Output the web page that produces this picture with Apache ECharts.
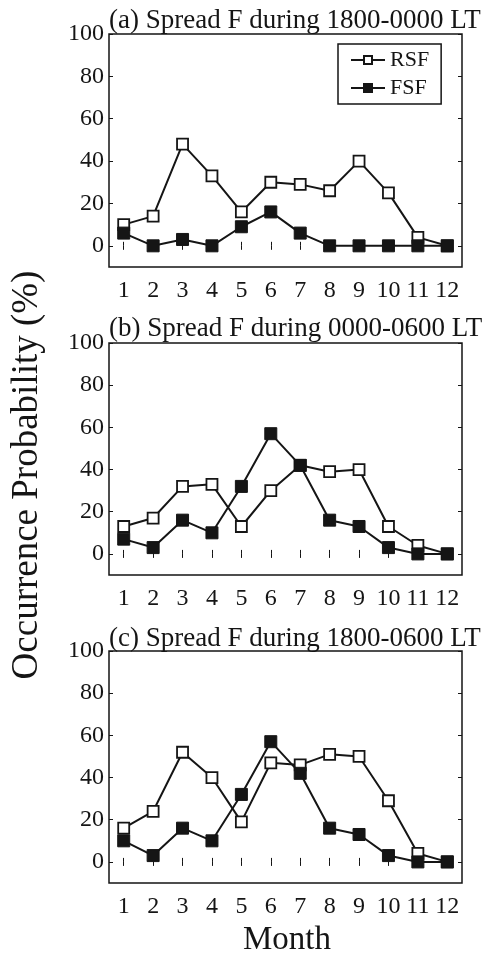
<!DOCTYPE html>
<html>
<head>
<meta charset="utf-8">
<script src="https://cdn.jsdelivr.net/npm/echarts@6/dist/echarts.min.js"></script>
<style>
  html, body { margin: 0; padding: 0; background: #fff; }
  #chart { width: 484px; height: 963px; }
</style>
</head>
<body>
<div id="chart"></div>
<script>
// months on the x axis
const months = ['1', '2', '3', '4', '5', '6', '7', '8', '9', '10', '11', '12'];
const yTicks = [0, 20, 40, 60, 80, 100];

// (a) 1800-0000 LT
const rsfA = [10, 14, 48, 33, 16, 30, 29, 26, 40, 25, 4, 0];
const fsfA = [6, 0, 3, 0, 9, 16, 6, 0, 0, 0, 0, 0];
// (b) 0000-0600 LT
const rsfB = [13, 17, 32, 33, 13, 30, 42, 39, 40, 13, 4, 0];
const fsfB = [7, 3, 16, 10, 32, 57, 42, 16, 13, 3, 0, 0];
// (c) 1800-0600 LT
const rsfC = [16, 24, 52, 40, 19, 47, 46, 51, 50, 29, 4, 0];
const fsfC = [10, 3, 16, 10, 32, 57, 42, 16, 13, 3, 0, 0];

const titles = [
  '(a) Spread F during 1800-0000 LT',
  '(b) Spread F during 0000-0600 LT',
  '(c) Spread F during 1800-0600 LT'
];

const FONT = 'Liberation Serif';
const INK = '#151515';

// panel boxes (top, height)
const panels = [
  { top: 34, height: 233, rsf: rsfA, fsf: fsfA, titleTop: 2 },
  { top: 343, height: 232, rsf: rsfB, fsf: fsfB, titleTop: 310 },
  { top: 651, height: 232, rsf: rsfC, fsf: fsfC, titleTop: 620 }
];

const grid = [], xAxis = [], yAxis = [], series = [], title = [];

panels.forEach((p, i) => {
  grid.push({
    left: 109, width: 353, top: p.top, height: p.height,
    show: true, borderColor: INK, borderWidth: 1.5, backgroundColor: 'transparent'
  });
  title.push({
    text: titles[i], left: 104, top: p.titleTop,
    textStyle: { fontFamily: FONT, fontSize: 27, fontWeight: 'normal', color: INK }
  });
  // bottom x axis with labels, top x axis only for ticks
  xAxis.push({
    type: 'category', gridIndex: i, data: months, position: 'bottom',
    boundaryGap: true,
    axisLine: { show: false },
    axisTick: { show: true, inside: true, alignWithLabel: true, length: 4, lineStyle: { color: INK, width: 1 } },
    axisLabel: { color: INK, fontFamily: FONT, fontSize: 24, margin: 12, interval: 0 },
    splitLine: { show: false }
  });
  xAxis.push({
    type: 'category', gridIndex: i, data: months, position: 'top',
    boundaryGap: true,
    axisLine: { show: false },
    axisTick: { show: true, inside: true, alignWithLabel: true, length: 4, lineStyle: { color: INK, width: 1 } },
    axisLabel: { show: false },
    splitLine: { show: false }
  });
  yAxis.push({
    type: 'value', gridIndex: i, min: -10, max: 100, position: 'left',
    axisLine: { show: false },
    axisTick: { show: true, inside: true, length: 4, customValues: yTicks, lineStyle: { color: INK, width: 1 } },
    axisLabel: { color: INK, fontFamily: FONT, fontSize: 24, margin: 5, customValues: yTicks },
    splitLine: { show: false }
  });
  yAxis.push({
    type: 'value', gridIndex: i, min: -10, max: 100, position: 'right',
    axisLine: { show: false },
    axisTick: { show: true, inside: true, length: 4, customValues: yTicks, lineStyle: { color: INK, width: 1 } },
    axisLabel: { show: false },
    splitLine: { show: false }
  });
  series.push({
    name: 'RSF', type: 'line', xAxisIndex: i * 2, yAxisIndex: i * 2,
    data: p.rsf, symbol: 'rect', symbolSize: 11,
    lineStyle: { color: INK, width: 2 },
    itemStyle: { color: '#fff', borderColor: INK, borderWidth: 1.8 },
    emphasis: { disabled: true }, z: 2
  });
  series.push({
    name: 'FSF', type: 'line', xAxisIndex: i * 2, yAxisIndex: i * 2,
    data: p.fsf, symbol: 'rect', symbolSize: 12,
    lineStyle: { color: INK, width: 2 },
    itemStyle: { color: INK, borderColor: INK, borderWidth: 1 },
    emphasis: { disabled: true }, z: 3
  });
});

const chart = echarts.init(document.getElementById('chart'));
chart.setOption({
  backgroundColor: '#fff',
  animation: false,
  title: title,
  grid: grid,
  xAxis: xAxis,
  yAxis: yAxis,
  legend: {
    data: ['RSF', 'FSF'],
    orient: 'vertical',
    left: 338, top: 44,
    width: 120,
    padding: [5, 12, 5, 12],
    itemGap: 6,
    itemWidth: 34, itemHeight: 10,
    borderColor: INK, borderWidth: 1.5,
    backgroundColor: '#fff',
    textStyle: { fontFamily: FONT, fontSize: 22, color: INK }
  },
  graphic: [
    {
      type: 'text', x: 27, y: 475, rotation: Math.PI / 2,
      style: {
        text: 'Occurrence Probability (%)', fill: INK,
        font: '37px "Liberation Serif"', align: 'center', verticalAlign: 'middle'
      }
    },
    {
      type: 'text', x: 287, y: 940,
      style: {
        text: 'Month', fill: INK,
        font: '33px "Liberation Serif"', align: 'center', verticalAlign: 'middle'
      }
    }
  ],
  series: series
});
</script>
</body>
</html>
